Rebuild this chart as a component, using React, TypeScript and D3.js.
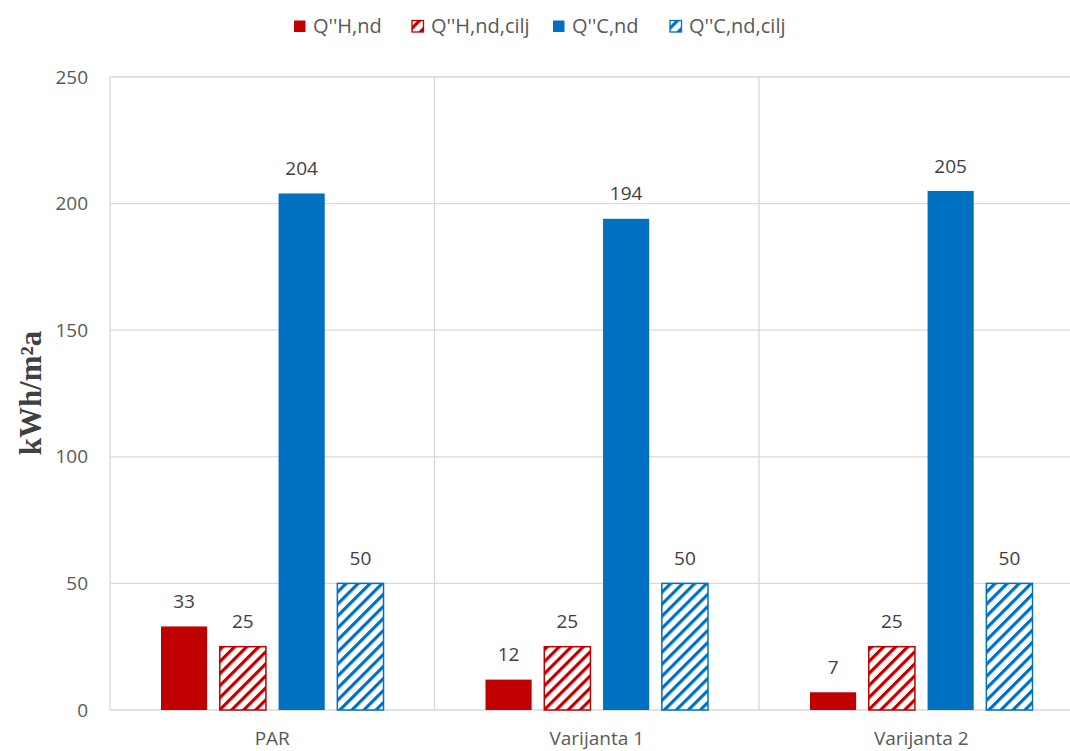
import React from "react";
import * as d3 from "d3";

const categories = ["PAR", "Varijanta 1", "Varijanta 2"];
const seriesNames = ["Q''H,nd", "Q''H,nd,cilj", "Q''C,nd", "Q''C,nd,cilj"];
const qHnd = [33, 12, 7];
const qHndCilj = [25, 25, 25];
const qCnd = [204, 194, 205];
const qCndCilj = [50, 50, 50];
const yTicks = [0, 50, 100, 150, 200, 250];

const seriesValues = [qHnd, qHndCilj, qCnd, qCndCilj];
const seriesColors = ["#C00000", "#C00000", "#0070C0", "#0070C0"];
const seriesHatched = [false, true, false, true];

const W = 1070;
const H = 751;
const left = 110;
const right = 1083.5;
const top = 77;
const bottom = 710;
const font = "'Open Sans', 'Noto Sans', sans-serif";
const textColor = "#595959";

export default function App() {
  const x0 = d3.scaleBand<string>().domain(categories).range([left, right]).paddingInner(0).paddingOuter(0);
  const y = d3.scaleLinear().domain([0, 250]).range([bottom, top]);
  const x1 = d3
    .scaleBand<number>()
    .domain([0, 1, 2, 3])
    .range([51, x0.bandwidth() - 51])
    .paddingInner(0.215);

  const legendX = [294, 412, 553, 670];

  return (
    <svg width={W} height={H} style={{ position: "absolute", left: 0, top: 0 }}>
      <defs>
        {["#C00000", "#0070C0"].map((c, i) => (
          <pattern
            key={c}
            id={`hatch${i}`}
            patternUnits="userSpaceOnUse"
            width={8.5}
            height={8.5}
            patternTransform="rotate(45)"
          >
            <rect width={8.5} height={8.5} fill="white" />
            <rect x={0} y={0} width={3.2} height={8.5} fill={c} />
          </pattern>
        ))}
      </defs>
      <rect width={W} height={H} fill="white" />
      {yTicks.map((t) => (
        <line key={t} x1={left} x2={right} y1={y(t)} y2={y(t)} stroke="#D9D9D9" strokeWidth={1.3} />
      ))}
      {[...categories.map((c) => x0(c) as number), right].map((xv, i) => (
        <line key={i} x1={xv} x2={xv} y1={top} y2={bottom} stroke="#D9D9D9" strokeWidth={1.3} />
      ))}
      {yTicks.map((t) => (
        <text key={t} x={88} y={y(t)} dy="0.35em" textAnchor="end" fontFamily={font} fontSize={19} fill={textColor}>
          {t}
        </text>
      ))}
      {categories.map((c, ci) => (
        <g key={c} transform={`translate(${x0(c)},0)`}>
          {seriesValues.map((vals, si) => {
            const v = vals[ci];
            const bx = x1(si) as number;
            const bw = x1.bandwidth();
            const hatched = seriesHatched[si];
            const col = seriesColors[si];
            return (
              <g key={si}>
                <rect
                  x={bx}
                  y={y(v)}
                  width={bw}
                  height={bottom - y(v)}
                  fill={hatched ? `url(#hatch${col === "#C00000" ? 0 : 1})` : col}
                  stroke={hatched ? col : "none"}
                  strokeWidth={hatched ? 1.5 : 0}
                />
                <text
                  x={bx + bw / 2}
                  y={y(v) - 25}
                  dy="0.35em"
                  textAnchor="middle"
                  fontFamily={font}
                  fontSize={19}
                  fill="#404040"
                >
                  {v}
                </text>
              </g>
            );
          })}
          <text
            x={x0.bandwidth() / 2}
            y={738}
            dy="0.35em"
            textAnchor="middle"
            fontFamily={font}
            fontSize={19}
            fill={textColor}
          >
            {c}
          </text>
        </g>
      ))}
      <text
        transform={`translate(30,393) rotate(-90)`}
        textAnchor="middle"
        dy="0.35em"
        fontFamily="'Liberation Serif', 'DejaVu Serif', serif"
        fontWeight="bold"
        fontSize={31}
        fill="#404040"
      >
        kWh/m²a
      </text>
      {seriesNames.map((n, i) => (
        <g key={n} transform={`translate(${legendX[i]},26)`}>
          <rect
            x={0}
            y={-5.5}
            width={11.5}
            height={11.5}
            fill={seriesHatched[i] ? `url(#hatch${seriesColors[i] === "#C00000" ? 0 : 1})` : seriesColors[i]}
            stroke={seriesHatched[i] ? seriesColors[i] : "none"}
            strokeWidth={1.3}
          />
          <text x={19} y={0} dy="0.35em" fontFamily={font} fontSize={20} fill={textColor}>
            {n}
          </text>
        </g>
      ))}
    </svg>
  );
}
